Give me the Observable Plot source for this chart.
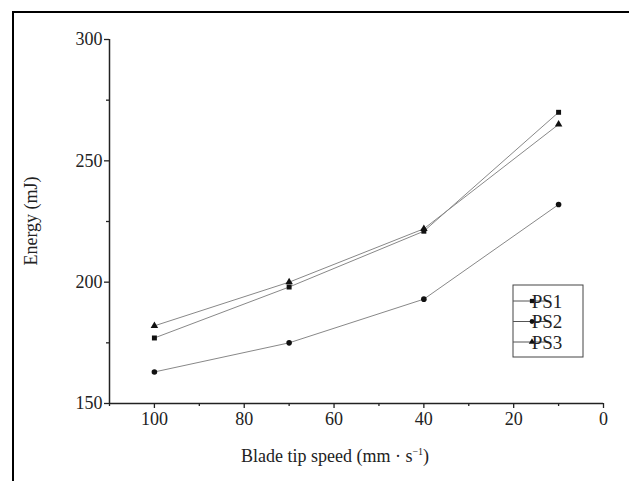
<!DOCTYPE html>
<html>
<head>
<meta charset="utf-8">
<script src="https://cdn.jsdelivr.net/npm/d3@7"></script>
<script src="https://cdn.jsdelivr.net/npm/@observablehq/plot@0.6"></script>
<style>
  html, body { margin: 0; padding: 0; background: #fff; }
  #wrap { position: relative; width: 629px; height: 481px; overflow: hidden; }
  #frame { position: absolute; left: 12px; top: 11px; width: 700px; height: 600px;
           border-top: 2px solid #000; border-left: 2px solid #000; }
  #chart { position: absolute; left: 0; top: 0; }
</style>
</head>
<body>
<div id="wrap"><div id="frame"></div><div id="chart"></div></div>
<script>
const speeds = [100, 70, 40, 10];
const seriesNames = ["PS1", "PS2", "PS3"];
const ps1 = [177, 198, 221, 270];
const ps2 = [163, 175, 193, 232];
const ps3 = [182, 200, 222, 265];
const symbols = ["square", "circle", "triangle"];
const xTicks = [100, 80, 60, 40, 20, 0];
const xMinor = [110, 90, 70, 50, 30, 10];
const yTicks = [150, 200, 250, 300];
const yMinor = [175, 225, 275];
const xLabel = "Blade tip speed (mm · s";
const yLabel = "Energy (mJ)";

const values = [ps1, ps2, ps3];
const data = [];
seriesNames.forEach((s, i) => speeds.forEach((x, j) => data.push({series: s, speed: x, energy: values[i][j]})));

const font = "Liberation Serif, Times New Roman, serif";

const plot = Plot.plot({
  width: 629,
  height: 481,
  marginLeft: 109,
  marginTop: 39,
  marginRight: 26,
  marginBottom: 78,
  style: {fontFamily: font, fontSize: "18px", color: "#222", background: "transparent"},
  x: {domain: [110, 0], axis: null},
  y: {domain: [150, 300], axis: null},
  symbol: {domain: seriesNames, range: symbols},
  marks: [
    Plot.line(data, {x: "speed", y: "energy", z: "series", stroke: "#888", strokeWidth: 1}),
    Plot.dot(data, {x: "speed", y: "energy", symbol: "series", fill: "#111", stroke: "none", r: 2.8}),
    Plot.ruleY([150], {stroke: "#222", strokeWidth: 1.5}),
    Plot.ruleX([110], {y1: 150, y2: 300, stroke: "#222", strokeWidth: 1.5}),
    Plot.axisX(xTicks, {tickSize: 5, tickPadding: 4, stroke: "#222", strokeWidth: 1.3, fill: "#222", fontSize: 18, label: null}),
    Plot.axisX(xMinor, {tickSize: 3, tickFormat: () => "", stroke: "#222", strokeWidth: 1.3, label: null}),
    Plot.axisY(yTicks, {tickSize: 5, tickPadding: 2, stroke: "#222", strokeWidth: 1.3, fill: "#222", fontSize: 18, label: null}),
    Plot.axisY(yMinor, {tickSize: 3, tickFormat: () => "", stroke: "#222", strokeWidth: 1.3, label: null})
  ]
});
document.getElementById("chart").appendChild(plot);

const svg = d3.select(plot);
svg.selectAll("g[aria-label$='tick label'] text, g[aria-label$='tick label']")
  .attr("font-size", 18).style("font-size", "18px");

// axis titles
const xt = svg.append("text")
  .attr("x", 335).attr("y", 462)
  .attr("text-anchor", "middle")
  .attr("font-family", font).attr("font-size", 18).attr("fill", "#222")
  .text(xLabel);
xt.append("tspan").attr("dy", -7).attr("font-size", 10).text("−1");
xt.append("tspan").attr("dy", 7).text(")");

svg.append("text")
  .attr("transform", "translate(37,221) rotate(-90)")
  .attr("text-anchor", "middle")
  .attr("font-family", font).attr("font-size", 18).attr("fill", "#222")
  .text(yLabel);

// legend
const lg = svg.append("g");
lg.append("rect").attr("x", 513).attr("y", 285).attr("width", 70).attr("height", 72)
  .attr("fill", "#fff").attr("stroke", "#444").attr("stroke-width", 1);
const sym = d3.scaleOrdinal(seriesNames, [d3.symbolSquare, d3.symbolCircle, d3.symbolTriangle]);
seriesNames.forEach((s, i) => {
  const y = 301 + i * 20.5;
  lg.append("line").attr("x1", 513).attr("x2", 547).attr("y1", y).attr("y2", y)
    .attr("stroke", "#555").attr("stroke-width", 1);
  lg.append("path").attr("d", d3.symbol(sym(s), 18)()).attr("transform", `translate(532,${y})`).attr("fill", "#111");
  lg.append("text").attr("x", 547).attr("y", y).attr("dy", "0.35em")
    .attr("font-family", font).attr("font-size", 19).attr("fill", "#222").text(s);
});
</script>
</body>
</html>
